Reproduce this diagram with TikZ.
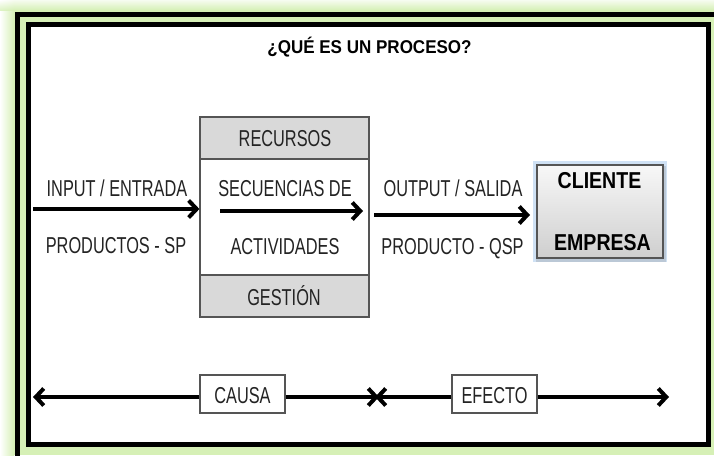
\documentclass[tikz,border=0pt]{standalone}
\usepackage{fontspec}
\setmainfont{Liberation Sans}
\newfontfamily\lblfont[FakeStretch=0.71]{Liberation Sans}
\newfontfamily\cliefont[FakeStretch=0.85]{Liberation Sans}
\newfontfamily\ttlfont[FakeStretch=0.92]{Liberation Sans}
\usetikzlibrary{arrows.meta}
\definecolor{bggreen}{RGB}{214,240,182}
\definecolor{bandgray}{RGB}{217,217,217}
\definecolor{boxedge}{RGB}{85,85,85}
\definecolor{glowblue}{RGB}{150,190,232}
\definecolor{txt}{RGB}{35,35,35}
\begin{document}
\begin{tikzpicture}[x=1pt,y=-1pt,
  lbl/.style={font=\lblfont\fontsize{23}{23}\selectfont, text=txt, inner sep=0pt, anchor=base},
  ttl/.style={font=\ttlfont\bfseries\fontsize{18.5}{18.5}\selectfont, text=black, inner sep=0pt, anchor=base},
  clie/.style={font=\cliefont\bfseries\fontsize{23}{23}\selectfont, text=black, inner sep=0pt, anchor=base},
  arr/.style={line width=4pt, -{Straight Barb[length=8pt,width=17pt]}},
  band/.style={draw=boxedge, line width=1.2pt, fill=bandgray, minimum width=169pt, minimum height=42pt, inner sep=0pt},
  tagbox/.style={draw=boxedge, line width=1.2pt, fill=white, minimum width=85pt, minimum height=38pt, inner sep=0pt,
     font=\lblfont\fontsize{23}{23}\selectfont, text=txt, text height=18pt, text depth=0pt}
]
\useasboundingbox (0,0) rectangle (714,455);
\clip (0,0) rectangle (714,455);
% background glow
\fill[bggreen] (0,0) rectangle (714,455);
\shade[left color=white, right color=bggreen] (0,0) rectangle (14,455);
\shade[top color=white, bottom color=bggreen, opacity=0.8] (0,0) rectangle (714,10);
% frames
\draw[line width=5pt] (17.5,14.5) rectangle (740,480);
\draw[line width=5pt, fill=white] (28.5,24.5) rectangle (708.5,444.5);
% title
\node[ttl] (title) at (369.5,53) {¿QUÉ ES UN PROCESO?};
% central process box
\node[draw=boxedge, line width=1.2pt, fill=white, minimum width=169pt, minimum height=200pt, inner sep=0pt] (proc) at (284.5,217) {};
\node[band] (rec) at (284.5,138) {};
\node[band] (ges) at (284.5,296) {};
\node[lbl] (recT) at (285,146.5) {RECURSOS};
\node[lbl] (secT) at (285,196.5) {SECUENCIAS DE};
\node[lbl] (actT) at (285,254) {ACTIVIDADES};
\node[lbl] (gesT) at (284,305) {GESTIÓN};
% input
\node[lbl] (inT) at (117,196.5) {INPUT / ENTRADA};
\node[lbl] (prodT) at (116,253.5) {PRODUCTOS - SP};
\coordinate (inS) at (33,209);
\draw[arr] (inS) -- (inS -| proc.west);
% inner arrow
\coordinate (sqS) at (220,211);
\coordinate (sqE) at (363,211);
\draw[arr] (sqS) -- (sqE);
% client box
\fill[glowblue, opacity=0.45] (533,161) rectangle (667,262);
\fill[gray, opacity=0.25] (536,166) rectangle (666,262);
\node[draw=boxedge, line width=1.2pt, top color=gray!6, bottom color=gray!38, minimum width=126pt, minimum height=93pt, inner sep=0pt] (client) at (600,211.5) {};
\node[clie] (clT) at (599.5,188) {CLIENTE};
\node[clie] (emT) at (602.5,250) {EMPRESA};
% output
\node[lbl] (outT) at (453,196.5) {OUTPUT / SALIDA};
\node[lbl] (qspT) at (452.5,254) {PRODUCTO - QSP};
\coordinate (outS) at (374,215);
\coordinate (outE) at (530,215);
\draw[arr] (outS) -- (outE);
% bottom cause / effect
\node[tagbox] (causa) at (242.5,394) {CAUSA};
\node[tagbox] (efecto) at (494.5,394) {EFECTO};
\coordinate (bl) at (33,397);
\coordinate (bm1) at (379,397);
\coordinate (bm2) at (375,397);
\coordinate (br) at (669,397);
\draw[arr] (causa.west |- bl) -- (bl);
\draw[arr] (causa.east |- bl) -- (bm1);
\draw[arr] (efecto.west |- bl) -- (bm2);
\draw[arr] (efecto.east |- bl) -- (br);
\end{tikzpicture}
\end{document}
